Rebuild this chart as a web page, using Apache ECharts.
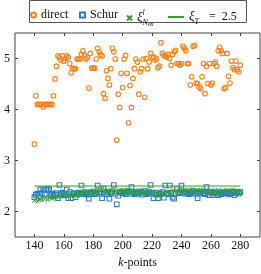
<!DOCTYPE html>
<html><head><meta charset="utf-8">
<script src="https://cdn.jsdelivr.net/npm/echarts@6/dist/echarts.min.js"></script>
<style>html,body{margin:0;padding:0;background:#fff}#c{width:261px;height:274px}</style>
</head><body><div id="c"></div>
<script>
const kPoints = [
140,141,142,143,144,145,146,147,148,149,
150,151,152,153,154,155,156,157,158,159,
160,161,162,163,164,165,166,167,168,169,
170,171,172,173,174,175,176,177,178,179,
180,181,182,183,184,185,186,187,188,189,
190,191,192,193,194,195,196,197,198,199,
200,201,202,203,204,205,206,207,208,209,
210,211,212,213,214,215,216,217,218,219,
220,221,222,223,224,225,226,227,228,229,
230,231,232,233,234,235,236,237,238,239,
240,241,242,243,244,245,246,247,248,249,
250,251,252,253,254,255,256,257,258,259,
260,261,262,263,264,265,266,267,268,269,
270,271,272,273,274,275,276,277,278,279,
280];
const directTime = [
3.32,4.27,4.10,4.10,4.10,4.10,4.05,4.10,4.10,4.10,
4.10,4.10,4.10,4.27,4.60,4.85,5.05,5.02,4.97,5.05,
4.95,5.00,5.05,5.02,4.90,4.72,4.80,4.80,4.80,4.99,
4.99,4.99,5.08,5.15,5.06,4.99,5.02,4.42,5.10,4.81,
4.81,4.81,4.99,5.20,5.13,5.08,5.05,4.31,4.22,4.76,
4.61,4.48,4.80,5.20,5.13,4.99,3.40,4.30,4.04,4.71,
4.43,4.99,5.06,4.71,3.74,4.47,4.04,4.61,4.80,4.99,
4.93,4.30,4.74,4.80,4.99,4.24,5.00,4.80,4.93,5.10,
5.03,5.03,4.97,5.00,4.82,4.85,5.31,5.10,5.06,5.05,
5.03,5.08,5.00,4.87,5.08,5.13,5.16,4.90,4.90,4.87,
4.90,5.24,5.20,5.15,4.90,4.90,4.48,4.64,5.24,5.26,
4.52,4.51,4.44,4.41,4.64,4.90,4.31,4.85,4.51,4.90,
4.48,4.52,4.90,4.93,4.85,5.15,5.22,5.15,5.10,4.41,
4.43,5.10,4.65,4.52,4.95,4.82,4.78,4.95,4.78,4.74,
4.87];
const schurTime = [
2.28,2.33,2.35,2.30,2.43,2.36,2.43,2.34,2.43,2.44,
2.43,2.32,2.35,2.30,2.33,2.36,2.26,2.52,2.34,2.37,
2.35,2.32,2.43,2.26,2.38,2.26,2.34,2.36,2.28,2.33,
2.37,2.35,2.51,2.34,2.38,2.36,2.33,2.25,2.37,2.35,
2.39,2.34,2.36,2.51,2.38,2.35,2.26,2.45,2.37,2.34,
2.38,2.25,2.36,2.39,2.52,2.35,2.14,2.31,2.37,2.38,
2.36,2.39,2.34,2.37,2.40,2.35,2.48,2.38,2.34,2.36,
2.38,2.35,2.39,2.33,2.37,2.40,2.34,2.36,2.38,2.52,
2.35,2.26,2.37,2.33,2.26,2.36,2.34,2.38,2.27,2.51,
2.36,2.34,2.51,2.37,2.27,2.25,2.35,2.44,2.36,2.38,
2.51,2.37,2.35,2.39,2.36,2.34,2.38,2.36,2.40,2.35,
2.37,2.26,2.38,2.35,2.39,2.36,2.34,2.48,2.37,2.32,
2.38,2.32,2.36,2.39,2.35,2.32,2.37,2.34,2.38,2.36,
2.35,2.38,2.36,2.34,2.37,2.39,2.32,2.36,2.38,2.35,
2.38];
const xiEstimate = [
2.21,2.24,2.20,2.23,2.25,2.22,2.26,2.24,2.27,2.23,
2.26,2.28,2.25,2.29,2.27,2.30,2.28,2.31,2.29,2.32,
2.30,2.33,2.31,2.34,2.32,2.30,2.34,2.33,2.36,2.32,
2.35,2.37,2.34,2.38,2.36,2.35,2.39,2.37,2.40,2.36,
2.41,2.38,2.40,2.43,2.37,2.41,2.44,2.39,2.42,2.38,
2.41,2.36,2.43,2.40,2.38,2.42,2.37,2.41,2.39,2.43,
2.38,2.41,2.36,2.40,2.42,2.37,2.39,2.41,2.36,2.40,
2.38,2.42,2.37,2.39,2.35,2.40,2.38,2.36,2.41,2.37,
2.34,2.37,2.33,2.36,2.35,2.32,2.36,2.34,2.37,2.35,
2.38,2.36,2.39,2.35,2.38,2.40,2.37,2.41,2.39,2.42,
2.38,2.41,2.43,2.39,2.42,2.40,2.38,2.43,2.41,2.39,
2.42,2.37,2.40,2.43,2.39,2.41,2.38,2.42,2.40,2.37,
2.41,2.39,2.36,2.40,2.38,2.42,2.39,2.37,2.41,2.38,
2.40,2.42,2.38,2.41,2.39,2.43,2.40,2.38,2.41,2.39,
2.40];
const xiThreshold = 2.5;
const thresholdRange = [140, 280];
const xTicks = [140,160,180,200,220,240,260,280];
const yTicks = [2,3,4,5];

const FONT = 'Liberation Serif';
const TXT = '#111';
const AX = '#444';
const C_ORANGE = '#ff7f0e', C_BLUE = '#2a7fc4', C_GREEN = '#2ca02c';
const X_MIN = 126.8, X_MAX = 293.4, Y_MIN = 1.5, Y_MAX = 5.5;

const pairs = ys => kPoints.map((k, i) => [k, ys[i]]);
const thresholdData = thresholdRange.map(k => [k, xiThreshold]);

const legendRich = {
  xi: {fontFamily: FONT, fontStyle: 'italic', fontSize: 13, color: TXT, lineHeight: 18},
  sup: {fontFamily: FONT, fontStyle: 'italic', fontSize: 8, color: TXT, lineHeight: 12, verticalAlign: 'top', width: 0},
  sub: {fontFamily: FONT, fontStyle: 'italic', fontSize: 8, color: TXT, lineHeight: 9, verticalAlign: 'bottom'},
  sub2: {fontFamily: FONT, fontSize: 6, color: TXT, lineHeight: 8, verticalAlign: 'bottom'},
  rm: {fontFamily: FONT, fontSize: 12, color: TXT, lineHeight: 18},
  eq: {fontFamily: FONT, fontSize: 12, color: TXT, lineHeight: 18, padding: [0, 0, 0, 4]}
};
const legendLabels = {
  'direct': '{rm|direct}',
  'Schur': '{rm|Schur}',
  'xi_l_Nex': '{xi|ξ}{sup|l}{sub|N}{sub2|ex}',
  'xi_T': '{xi|ξ}{sub|T}{eq|  =  2.5}'
};
function mkLegend(name, left, w, h, top, icon, color) {
  const item = icon ? {name: name, icon: icon,
    itemStyle: {color: color, borderColor: color, borderWidth: 0, opacity: 1},
    lineStyle: {color: color, width: 1}} : name;
  return {
    data: [item], left: left, top: top, itemWidth: w, itemHeight: h, padding: 0,
    selectedMode: false,
    formatter: n => legendLabels[n],
    textStyle: {fontFamily: FONT, fontSize: 12, color: TXT, rich: legendRich}
  };
}

const chart = echarts.init(document.getElementById('c'), null, {renderer: 'canvas'});
chart.setOption({
  animation: false,
  backgroundColor: '#fff',
  grid: {left: 15, top: 33, right: 1, bottom: 37, show: true, borderColor: AX, borderWidth: 1,
         backgroundColor: 'transparent', outerBoundsMode: 'none', containLabel: false},
  graphic: [{type: 'rect', shape: {x: 29.5, y: 0.5, width: 217, height: 22},
             style: {fill: 'none', stroke: '#555', lineWidth: 1}, silent: true}],
  legend: [
    mkLegend('direct', 30, 5, 5, 9),
    mkLegend('Schur', 79, 5, 5, 9),
    mkLegend('xi_l_Nex', 126, 5, 5, 9),
    mkLegend('xi_T', 168, 16, 2, 10.5, 'rect', C_GREEN)
  ],
  xAxis: [{
    type: 'value', min: X_MIN, max: X_MAX, position: 'bottom',
    axisLine: {show: false}, splitLine: {show: false},
    axisTick: {show: true, inside: true, length: 3, customValues: xTicks, lineStyle: {color: AX, width: 1}},
    axisLabel: {customValues: xTicks, margin: 3, fontFamily: FONT, fontSize: 12, color: TXT},
    name: '{i|k}-points', nameLocation: 'middle', nameGap: 20, nameMoveOverlap: false,
    nameTextStyle: {fontFamily: FONT, fontSize: 12, color: TXT,
      rich: {i: {fontFamily: FONT, fontSize: 12, fontStyle: 'italic', color: TXT}}}
  }, {
    type: 'value', min: X_MIN, max: X_MAX, position: 'top',
    axisLine: {show: false}, splitLine: {show: false}, axisLabel: {show: false},
    axisTick: {show: true, inside: true, length: 3, customValues: xTicks, lineStyle: {color: AX, width: 1}}
  }],
  yAxis: [{
    type: 'value', min: Y_MIN, max: Y_MAX, position: 'left',
    axisLine: {show: false}, splitLine: {show: false},
    axisTick: {show: true, inside: true, length: 3, customValues: yTicks, lineStyle: {color: AX, width: 1}},
    axisLabel: {customValues: yTicks, margin: 5, fontFamily: FONT, fontSize: 12, color: TXT}
  }, {
    type: 'value', min: Y_MIN, max: Y_MAX, position: 'right',
    axisLine: {show: false}, splitLine: {show: false}, axisLabel: {show: false},
    axisTick: {show: true, inside: true, length: 3, customValues: yTicks, lineStyle: {color: AX, width: 1}}
  }],
  series: [{
    name: 'direct', type: 'scatter', data: pairs(directTime),
    symbol: 'circle', symbolSize: 4.6,
    itemStyle: {color: 'rgba(255,255,255,0)', borderColor: C_ORANGE, borderWidth: 1.1, opacity: 1}
  }, {
    name: 'Schur', type: 'scatter', data: pairs(schurTime),
    symbol: 'rect', symbolSize: 4.6,
    itemStyle: {color: 'rgba(255,255,255,0)', borderColor: C_BLUE, borderWidth: 1.1, opacity: 1}
  }, {
    name: 'xi_l_Nex', type: 'scatter', data: pairs(xiEstimate),
    symbol: 'path://M0,0L10,10M10,0L0,10', symbolSize: 3.8,
    itemStyle: {color: 'rgba(255,255,255,0)', borderColor: C_GREEN, borderWidth: 1, opacity: 1}
  }, {
    name: 'xi_T', type: 'line', data: thresholdData, symbol: 'none',
    lineStyle: {color: C_GREEN, width: 1}, itemStyle: {color: C_GREEN}
  }]
});
</script></body></html>
